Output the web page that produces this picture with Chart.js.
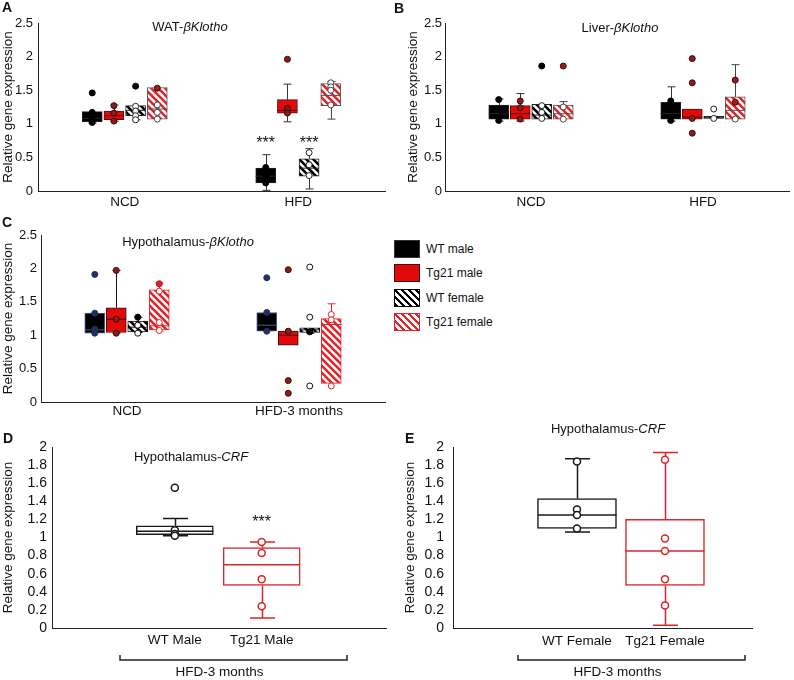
<!DOCTYPE html>
<html>
<head>
<meta charset="utf-8">
<script src="https://cdn.jsdelivr.net/npm/chart.js@4.4.1/dist/chart.umd.min.js"></script>
<style>
body { margin: 0; background: #fff; font-family: "Liberation Sans", Arial, sans-serif; color: #111; }
#fig { position: relative; width: 794px; height: 680px; overflow: hidden; }
#fig canvas { position: absolute; }
.lab { position: absolute; font-weight: bold; font-size: 14px; line-height: 14px; }
.leg { position: absolute; left: 394px; top: 237px; font-size: 12px; }
.row { height: 24.3px; display: flex; align-items: center; }
.sw { width: 26px; height: 18px; box-sizing: border-box; margin-right: 6px; }
</style>
</head>
<body>
<div id="fig">
  <canvas id="pA" width="390" height="215" style="left:0;top:0"></canvas>
  <canvas id="pB" width="404" height="215" style="left:390px;top:0"></canvas>
  <canvas id="pC" width="390" height="214" style="left:0;top:212px"></canvas>
  <canvas id="pD" width="392" height="255" style="left:0;top:425px"></canvas>
  <canvas id="pE" width="402" height="280" style="left:392px;top:400px"></canvas>
  <div class="lab" style="left:2px;top:0">A</div>
  <div class="lab" style="left:394px;top:1px">B</div>
  <div class="lab" style="left:2px;top:215px">C</div>
  <div class="lab" style="left:3px;top:431px">D</div>
  <div class="lab" style="left:405px;top:431px">E</div>
  <div class="leg" id="legend"></div>
</div>
<script>
// box stats are [min, q1, median, q3, max]; one entry per group
const seriesNames = ['WT male', 'Tg21 male', 'WT female', 'Tg21 female'];

// A: WAT-bKlotho
const watGroups = ['NCD', 'HFD'];
const watWtMaleBox = [[1.01, 1.03, 1.08, 1.18, 1.18], [0.01, 0.12, 0.22, 0.34, 0.54]];
const watWtMaleDots = [[1.46, 1.17, 1.1, 1.02], [0.35, 0.22, 0.12]];
const watTgMaleBox = [[1.04, 1.06, 1.12, 1.19, 1.28], [1.03, 1.16, 1.2, 1.36, 1.59]];
const watTgMaleDots = [[1.27, 1.16, 1.04], [1.96, 1.23, 1.16]];
const watWtFemBox = [[1.06, 1.12, 1.2, 1.27, 1.27], [0.03, 0.22, 0.34, 0.48, 0.63]];
const watWtFemPts = [[1.26, 1.19, 1.12, 1.06], [0.57, 0.39, 0.23]];
const watWtFemDots = [[1.56], []];
const watTgFemBox = [[1.07, 1.07, 1.22, 1.54, 1.54], [1.07, 1.27, 1.42, 1.6, 1.63]];
const watTgFemPts = [[1.28, 1.17, 1.07], [1.61, 1.55, 1.5, 1.28]];
const watTgFemDots = [[1.53], []];
const watSig = [['', '', '', ''], ['***', '', '***', '']];

// B: Liver-bKlotho
const livGroups = ['NCD', 'HFD'];
const livWtMaleBox = [[1.04, 1.07, 1.15, 1.28, 1.37], [1.04, 1.07, 1.15, 1.32, 1.55]];
const livWtMaleDots = [[1.36, 1.05], [1.34, 1.05]];
const livTgMaleBox = [[1.04, 1.07, 1.15, 1.27, 1.45], [1.07, 1.07, 1.1, 1.22, 1.22]];
const livTgMaleDots = [[1.34, 1.24, 1.07], [1.97, 1.61, 1.08, 0.86]];
const livWtFemBox = [[1.07, 1.07, 1.13, 1.29, 1.29], [1.08, 1.08, 1.09, 1.11, 1.11]];
const livWtFemPts = [[1.27, 1.17, 1.08], [1.22, 1.08]];
const livWtFemDots = [[1.86], []];
const livTgFemBox = [[1.07, 1.07, 1.15, 1.28, 1.33], [1.07, 1.07, 1.2, 1.4, 1.88]];
const livTgFemPts = [[1.25, 1.07], [1.07]];
const livTgFemDots = [[1.86], [1.65, 1.32]];
const livSig = [['', '', '', ''], ['', '', '', '']];

// C: Hypothalamus-bKlotho
const hypGroups = ['NCD', 'HFD-3 months'];
const hypWtMaleBox = [[1.03, 1.03, 1.08, 1.33, 1.33], [1.06, 1.06, 1.15, 1.34, 1.34]];
const hypWtMaleDots = [[1.91, 1.33, 1.09, 1.03], [1.86, 1.34, 1.06]];
const hypTgMaleBox = [[1.03, 1.04, 1.24, 1.41, 1.97], [0.85, 0.85, 1.0, 1.06, 1.06]];
const hypTgMaleDots = [[1.97, 1.24, 1.03], [1.98, 1.06, 0.32, 0.13]];
const hypWtFemBox = [[1.04, 1.05, 1.12, 1.21, 1.27], [1.03, 1.04, 1.08, 1.11, 1.11]];
const hypWtFemPts = [[1.15, 1.03], [2.02, 1.27, 0.24]];
const hypWtFemDots = [[1.27], [1.05]];
const hypTgFemBox = [[1.06, 1.08, 1.14, 1.68, 1.78], [0.28, 0.28, 1.16, 1.25, 1.47]];
const hypTgFemPts = [[1.66, 1.19, 1.07], [1.31, 1.23, 0.24]];
const hypTgFemDots = [[1.77], []];
const hypSig = [['', '', '', ''], ['', '', '', '']];

// D: Hypothalamus-CRF, males
const crfMaleCats = ['WT Male', 'Tg21 Male'];
const crfMaleBox = [[1.02, 1.03, 1.07, 1.13, 1.21], [0.11, 0.47, 0.70, 0.89, 0.95]];
const crfMalePts = [[1.55, 1.08, 1.04, 1.02], [0.95, 0.83, 0.54, 0.24]];
const crfMaleSig = ['', '***'];

// E: Hypothalamus-CRF, females
const crfFemCats = ['WT Female', 'Tg21 Female'];
const crfFemBox = [[1.06, 1.10, 1.25, 1.43, 1.87], [0.03, 0.47, 0.85, 1.20, 1.94]];
const crfFemPts = [[1.84, 1.31, 1.25, 1.10], [1.86, 0.99, 0.85, 0.54, 0.25]];
const crfFemSig = ['', ''];

const family = '"Liberation Sans", Arial, sans-serif';
const RED = '#e10a0a';

function hatch(color) {
  const s = 7;
  const c = document.createElement('canvas');
  c.width = c.height = s;
  const g = c.getContext('2d');
  g.fillStyle = '#fff';
  g.fillRect(0, 0, s, s);
  g.strokeStyle = color;
  g.lineWidth = 2.6;
  g.beginPath();
  for (const k of [-1, 0, 1]) {
    g.moveTo(-1, -1 + k * s);
    g.lineTo(s + 1, s + 1 + k * s);
  }
  g.stroke();
  return g.createPattern(c, 'repeat');
}
const blackHatch = hatch('#000');
const redHatch = hatch('#e3232a');

const styleAB = [
  {fill: '#000', line: '#222', whisker: '#333', dot: '#000', dotLine: '#000', ptLine: '#000'},
  {fill: RED, line: '#5a0c0c', whisker: '#333', dot: '#8e1b1b', dotLine: '#3a0a0a', ptLine: '#5a0c0c'},
  {fill: blackHatch, line: '#222', whisker: '#333', dot: '#000', dotLine: '#000', ptLine: '#222'},
  {fill: redHatch, line: '#555', whisker: '#444', dot: '#a01c1c', dotLine: '#3a0a0a', ptLine: '#444'}
];
const styleC = [
  {fill: '#000', line: '#4a5a92', whisker: '#4a5a92', dot: '#22305e', dotLine: '#22305e', ptLine: '#22305e'},
  {fill: RED, line: '#3b0b0b', whisker: '#111', dot: '#8e1b1b', dotLine: '#3a0a0a', ptLine: '#3a0a0a'},
  {fill: blackHatch, line: '#111', whisker: '#111', dot: '#000', dotLine: '#000', ptLine: '#111'},
  {fill: redHatch, line: '#e3232a', whisker: '#e3232a', dot: '#e3232a', dotLine: '#b01515', ptLine: '#e3232a'}
];
const styleCrf = [
  {fill: '#fff', line: '#1a1a1a', whisker: '#1a1a1a', ptLine: '#1a1a1a'},
  {fill: '#fff', line: '#d8262c', whisker: '#d8262c', ptLine: '#d8262c'}
];

const offsets = [-0.1875, -0.0625, 0.0625, 0.1875];

function grouped(groups, series, styles, sig) {
  const out = [];
  series.forEach((s, si) => {
    groups.forEach((g, gi) => {
      out.push({x: gi + offsets[si], stats: s.box[gi], pts: (s.pts || [])[gi] || [],
        dots: (s.dots || [])[gi] || [], st: styles[si], sig: sig[gi][si]});
    });
  });
  return out;
}

function single(cats, box, pts, sig) {
  return cats.map((c, i) => ({x: i, stats: box[i], pts: pts[i], dots: [], st: styleCrf[i], sig: sig[i]}));
}

function drawTitle(ctx, parts, cx, cy, size) {
  const fonts = parts.map(([, it]) => (it ? 'italic ' : '') + size + 'px ' + family);
  let total = 0;
  const widths = parts.map(([t], i) => {
    ctx.font = fonts[i];
    const w = ctx.measureText(t).width;
    total += w;
    return w;
  });
  let x = cx - total / 2;
  ctx.textAlign = 'left';
  ctx.textBaseline = 'middle';
  ctx.fillStyle = '#111';
  parts.forEach(([t], i) => {
    ctx.font = fonts[i];
    ctx.fillText(t, x, cy);
    x += widths[i];
  });
}

function makePanel(id, p) {
  const datasets = [];
  const boxOf = {};
  p.boxes.forEach((b) => {
    boxOf[datasets.length] = b;
    datasets.push({
      type: 'bar', data: [{x: b.x, y: [b.stats[1], b.stats[3]]}],
      backgroundColor: b.st.fill, borderColor: b.st.line, borderWidth: p.lineW,
      borderSkipped: false, barThickness: p.boxW, grouped: false, order: 2
    });
    if (b.pts.length) {
      datasets.push({
        type: 'scatter', data: b.pts.map(v => ({x: b.x, y: v})),
        pointRadius: p.r, pointBackgroundColor: '#fff', pointBorderColor: b.st.ptLine,
        pointBorderWidth: p.ptW, order: 1
      });
    }
    if (b.dots.length) {
      datasets.push({
        type: 'scatter', data: b.dots.map(v => ({x: b.x, y: v})),
        pointRadius: p.r, pointBackgroundColor: b.st.dot, pointBorderColor: b.st.dotLine,
        pointBorderWidth: 1, order: 1
      });
    }
  });

  const parts = {
    id: 'boxParts',
    beforeDatasetsDraw(chart) {
      const {ctx, scales: {x, y}} = chart;
      ctx.save();
      ctx.lineWidth = p.whiskerW;
      p.boxes.forEach((b) => {
        const [mn, q1, , q3, mx] = b.stats;
        const px = Math.round(x.getPixelForValue(b.x)) + 0.5;
        ctx.strokeStyle = b.st.whisker;
        ctx.beginPath();
        if (mx > q3) {
          ctx.moveTo(px, y.getPixelForValue(q3));
          ctx.lineTo(px, y.getPixelForValue(mx));
          ctx.moveTo(px - p.capW / 2, y.getPixelForValue(mx));
          ctx.lineTo(px + p.capW / 2, y.getPixelForValue(mx));
        }
        if (mn < q1) {
          ctx.moveTo(px, y.getPixelForValue(q1));
          ctx.lineTo(px, y.getPixelForValue(mn));
          ctx.moveTo(px - p.capW / 2, y.getPixelForValue(mn));
          ctx.lineTo(px + p.capW / 2, y.getPixelForValue(mn));
        }
        ctx.stroke();
      });
      ctx.restore();
    },
    afterDatasetDraw(chart, args) {
      const b = boxOf[args.index];
      if (!b) return;
      const el = args.meta.data[0];
      const {ctx, scales: {y}} = chart;
      const py = y.getPixelForValue(b.stats[2]);
      ctx.save();
      ctx.strokeStyle = b.st.line;
      ctx.lineWidth = p.lineW;
      ctx.beginPath();
      ctx.moveTo(el.x - el.width / 2, py);
      ctx.lineTo(el.x + el.width / 2, py);
      ctx.stroke();
      ctx.restore();
    },
    afterDraw(chart) {
      const {ctx, chartArea: a, scales: {x, y}} = chart;
      drawTitle(ctx, p.title, a.left + p.titleDx, a.top + p.titleDy, 13);
      ctx.save();
      ctx.fillStyle = '#111';
      ctx.textAlign = 'center';
      ctx.textBaseline = 'alphabetic';
      ctx.font = '16px ' + family;
      p.boxes.forEach((b) => {
        if (b.sig) ctx.fillText(b.sig, x.getPixelForValue(b.x), y.getPixelForValue(p.starAt) + 9);
      });
      if (p.bracket) {
        const [l, r] = p.bracket;
        ctx.strokeStyle = '#222';
        ctx.lineWidth = 1.5;
        ctx.beginPath();
        ctx.moveTo(a.left + l, a.bottom + 27);
        ctx.lineTo(a.left + l, a.bottom + 32);
        ctx.lineTo(a.left + r, a.bottom + 32);
        ctx.lineTo(a.left + r, a.bottom + 27);
        ctx.stroke();
        ctx.textBaseline = 'middle';
        ctx.font = '13.5px ' + family;
        ctx.fillText(p.bracketLabel, a.left + (l + r) / 2 - 14, a.bottom + 44);
      }
      ctx.restore();
    }
  };

  return new Chart(document.getElementById(id), {
    type: 'bar',
    data: {datasets},
    options: {
      responsive: false,
      animation: false,
      events: [],
      layout: {padding: {top: p.padTop, right: p.padRight, left: 0, bottom: 0}},
      plugins: {legend: {display: false}, tooltip: {enabled: false}},
      scales: {
        x: {
          type: 'linear', min: p.xMin, max: p.xMax, offset: false,
          grid: {display: false, drawTicks: false},
          border: {display: true, color: '#222', width: 1},
          ticks: {
            autoSkip: false, maxRotation: 0, padding: p.xPad, color: '#111',
            font: {size: 13.5, family},
            callback: (v, i) => p.labels[i]
          },
          afterBuildTicks: (s) => { s.ticks = p.labels.map((l, i) => ({value: i})); },
          afterFit: (s) => { s.height = p.xH; }
        },
        y: {
          type: 'linear', min: 0, max: p.yMax,
          grid: {display: false, drawTicks: false},
          border: {display: true, color: '#222', width: 1},
          ticks: {
            autoSkip: false, stepSize: p.yStep, padding: p.yPad, color: '#111',
            font: {size: p.tickSize, family},
            callback: (v) => String(Math.round(v * 10) / 10)
          },
          title: {
            display: true, text: 'Relative gene expression', color: '#111',
            font: {size: 13.5, family}, padding: {top: p.ytPad, bottom: 0}
          },
          afterFit: (s) => { s.width = p.yW; }
        }
      }
    },
    plugins: [parts]
  });
}

const smallPanel = {xMin: -0.5, xMax: 1.5, yMax: 2.5, yStep: 0.5, boxW: 20, capW: 8,
  lineW: 1, whiskerW: 1, r: 3, ptW: 1, tickSize: 13, starAt: 0.78};

makePanel('pA', Object.assign({}, smallPanel, {
  boxes: grouped(watGroups, [
    {box: watWtMaleBox, dots: watWtMaleDots},
    {box: watTgMaleBox, dots: watTgMaleDots},
    {box: watWtFemBox, pts: watWtFemPts, dots: watWtFemDots},
    {box: watTgFemBox, pts: watTgFemPts, dots: watTgFemDots}
  ], styleAB, watSig),
  labels: watGroups, title: [['WAT-', false], ['\u03b2Klotho', true]],
  titleDx: 152, titleDy: 4.5, padTop: 23, padRight: 5, xH: 24, xPad: 3, yW: 38, yPad: 5, ytPad: 0
}));

makePanel('pB', Object.assign({}, smallPanel, {
  boxes: grouped(livGroups, [
    {box: livWtMaleBox, dots: livWtMaleDots},
    {box: livTgMaleBox, dots: livTgMaleDots},
    {box: livWtFemBox, pts: livWtFemPts, dots: livWtFemDots},
    {box: livTgFemBox, pts: livTgFemPts, dots: livTgFemDots}
  ], styleAB, livSig),
  labels: livGroups, title: [['Liver-', false], ['\u03b2Klotho', true]],
  titleDx: 175, titleDy: 5, padTop: 23, padRight: 2, xH: 24, xPad: 3, yW: 55, yPad: 3, ytPad: 15
}));

makePanel('pC', Object.assign({}, smallPanel, {
  boxes: grouped(hypGroups, [
    {box: hypWtMaleBox, dots: hypWtMaleDots},
    {box: hypTgMaleBox, dots: hypTgMaleDots},
    {box: hypWtFemBox, pts: hypWtFemPts, dots: hypWtFemDots},
    {box: hypTgFemBox, pts: hypTgFemPts, dots: hypTgFemDots}
  ], styleC, hypSig),
  labels: hypGroups, title: [['Hypothalamus-', false], ['\u03b2Klotho', true]],
  titleDx: 147, titleDy: 7.5, padTop: 23, padRight: 3, xH: 24, xPad: 1, yW: 41, yPad: 4, ytPad: 0
}));

const crfPanel = {yMax: 2, yStep: 0.2, capW: 25, lineW: 1.5, whiskerW: 1.5, r: 3.5, ptW: 1.5,
  tickSize: 14, starAt: 1.21, xH: 52, bracketLabel: 'HFD-3 months'};

makePanel('pD', Object.assign({}, crfPanel, {
  boxes: single(crfMaleCats, crfMaleBox, crfMalePts, crfMaleSig),
  labels: crfMaleCats, title: [['Hypothalamus-', false], ['CRF', true]],
  xMin: -1.414, xMax: 2.437, boxW: 77, bracket: [68, 295],
  titleDx: 139, titleDy: 10.5, padTop: 22, padRight: 5, xPad: 4, yW: 52, yPad: 5, ytPad: 0
}));

makePanel('pE', Object.assign({}, crfPanel, {
  boxes: single(crfFemCats, crfFemBox, crfFemPts, crfFemSig),
  labels: crfFemCats, title: [['Hypothalamus-', false], ['CRF', true]],
  xMin: -1.409, xMax: 1.989, boxW: 79, bracket: [65, 292],
  titleDx: 155, titleDy: -18, padTop: 47, padRight: 42, xPad: 5, yW: 61, yPad: 9, ytPad: 10
}));

// legend
const swatches = [
  'background:#000;border:1px solid #333',
  'background:' + RED + ';border:1.5px solid #4a0a0a',
  'background:repeating-linear-gradient(45deg,#000 0 2.5px,#fff 2.5px 5px);border:1.5px solid #000',
  'background:repeating-linear-gradient(45deg,#e3232a 0 2.5px,#fff 2.5px 5px);border:1.5px solid #e3232a'
];
const legend = document.getElementById('legend');
seriesNames.forEach((name, i) => {
  const row = document.createElement('div');
  row.className = 'row';
  const sw = document.createElement('div');
  sw.className = 'sw';
  sw.style.cssText = swatches[i];
  const span = document.createElement('span');
  span.textContent = name;
  row.append(sw, span);
  legend.append(row);
});
</script>
</body>
</html>
